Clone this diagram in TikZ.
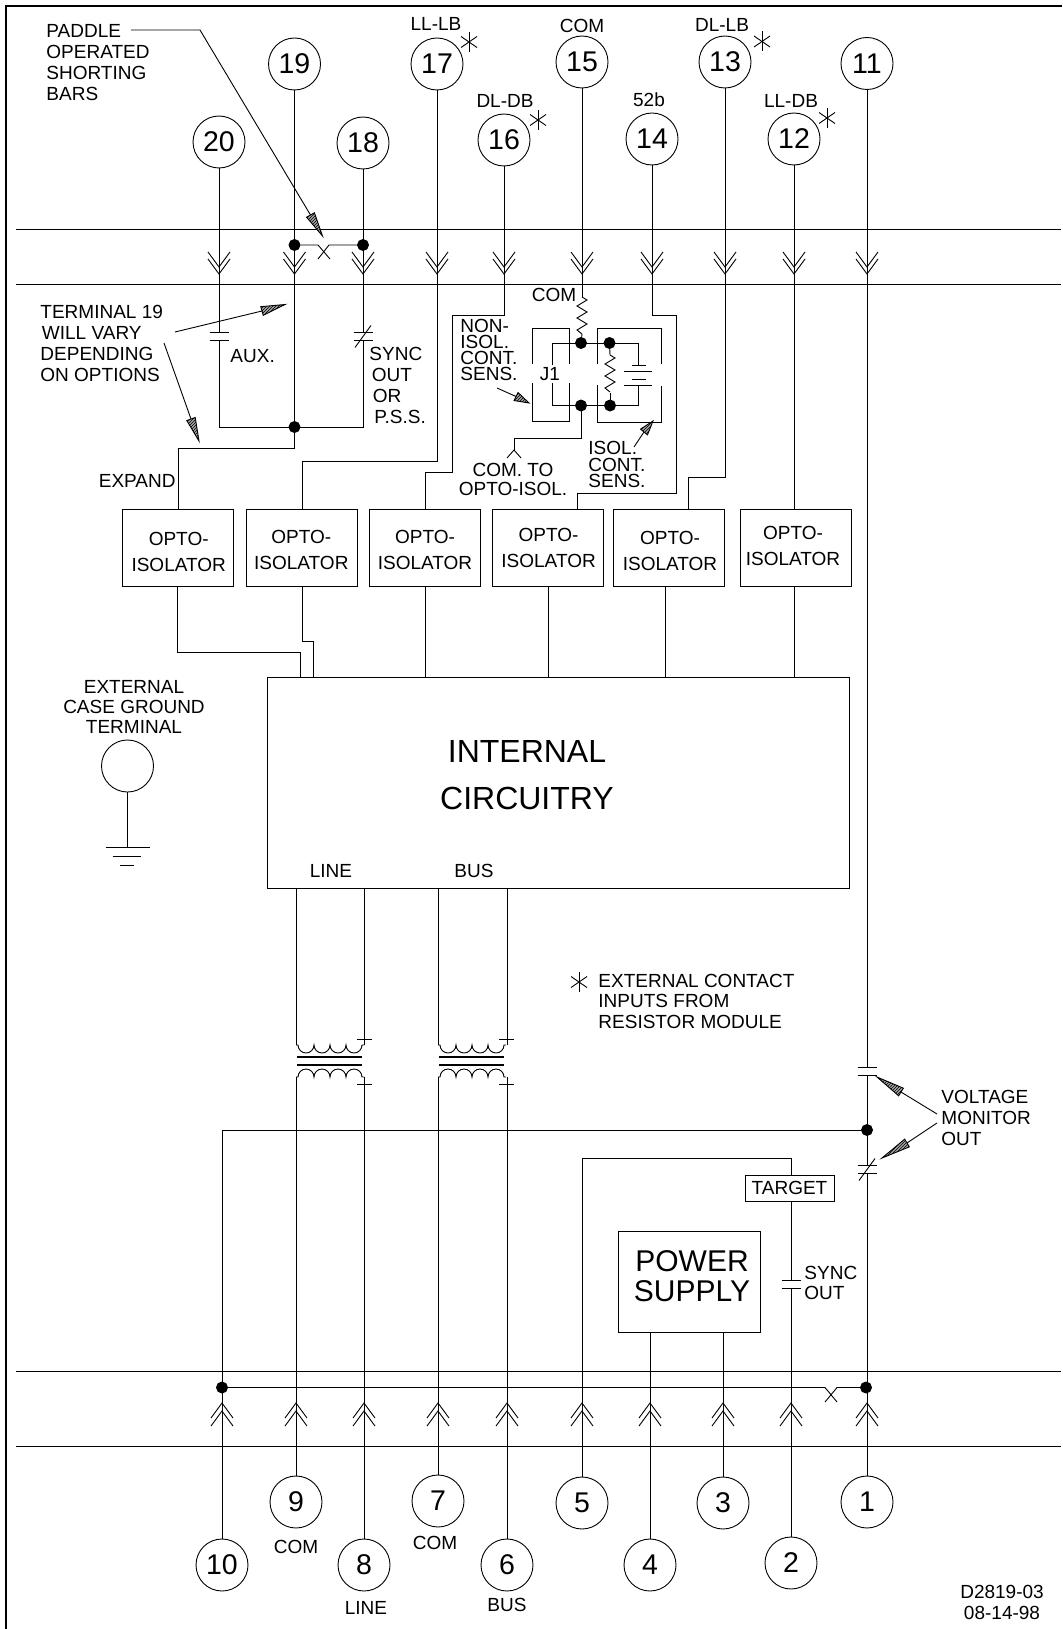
\documentclass[tikz,border=0pt]{standalone}
\usepackage{fontspec}
\setmainfont{Liberation Sans}
\usetikzlibrary{calc,patterns,positioning}
\tikzset{%
	terminal/.style = {draw, circle, minimum size=52pt, inner sep=0pt, fill=white, font=\fontsize{28.5}{30}\selectfont}, % Numbered stud
	optobox/.style  = {draw, rectangle, minimum width=111pt, minimum height=77pt, inner sep=0pt},
	dot/.style      = {draw, circle, fill=black, minimum size=11pt, inner sep=0pt},
	waypoint/.style = {coordinate},
	txt/.style      = {inner sep=0pt, font=\fontsize{19}{21}\selectfont},
	txtl/.style     = {txt, anchor=west, align=left},
	txtc/.style     = {txt, align=center},
	optotxt/.style  = {txtc, font=\fontsize{19}{26}\selectfont},
	chevdown/.pic   = {\draw (-11,-15) -- (0,0) -- (11,-15); \draw (-11,-8) -- (0,7) -- (11,-8);},
	chevup/.pic     = {\draw (-11,15) -- (0,0) -- (11,15); \draw (-11,23) -- (0,8) -- (11,23);},
	capgap/.pic     = {\fill[white] (-9.5,-4) rectangle (9.5,4); \draw (-9.5,-4) -- (9.5,-4); \draw (-9.5,4) -- (9.5,4);},
	capslash/.pic   = {\fill[white] (-9.5,-4) rectangle (9.5,4); \draw (-9.5,-4) -- (9.5,-4); \draw (-9.5,4) -- (9.5,4); \draw (-8,11) -- (8,-11);},
	extstar/.pic    = {\draw (0,-10) -- (0,10); \draw (-8,-5.5) -- (8,5.5); \draw (-8,5.5) -- (8,-5.5);},
	zigzag/.pic     = {\draw (0,0) -- (5,3) -- (-5,9) -- (5,15) -- (-5,21) -- (5,27) -- (-5,33) -- (0,37);},
	transformer/.pic = {%
		\draw (0,0) -- (2,0) arc[start angle=180,end angle=360,radius=8pt] arc[start angle=180,end angle=360,radius=8pt] arc[start angle=180,end angle=360,radius=8pt] arc[start angle=180,end angle=360,radius=8pt] -- (68,0);
		\draw (0,32) -- (2,32) arc[start angle=180,end angle=0,radius=8pt] arc[start angle=180,end angle=0,radius=8pt] arc[start angle=180,end angle=0,radius=8pt] arc[start angle=180,end angle=0,radius=8pt] -- (68,32);
		\draw[line width=1.2pt] (1,12) -- (66,12);
		\draw[line width=1.2pt] (1,20) -- (66,20);
		\draw (61,-6) -- (76,-6);
		\draw (61,39) -- (76,39);
	},
}
\newcommand{\hatchtip}[2]{%
	\fill[gray!70] ($(#1)!4.5pt!90:(#2)$) -- (#2) -- ($(#1)!4.5pt!-90:(#2)$) -- cycle;
	\draw[pattern=north east lines] ($(#1)!4.5pt!90:(#2)$) -- (#2) -- ($(#1)!4.5pt!-90:(#2)$) -- cycle;}

\begin{document}
\begin{tikzpicture}[x=1pt,y=-1pt,line width=0.9pt]
	\useasboundingbox (0,0) rectangle (1062,1629);
	\draw[line width=2.2pt] (6,1629) -- (6,6) -- (1062,6);

	\coordinate (barTL) at (16,229);
	\coordinate (barTR) at (1061,229);
	\coordinate (barUL) at (16,284);
	\coordinate (barUR) at (1061,284);
	\coordinate (barVL) at (16,1371);
	\coordinate (barVR) at (1061,1371);
	\coordinate (barWL) at (16,1446);
	\coordinate (barWR) at (1061,1446);
	\draw (barTL) -- (barTR);
	\draw (barUL) -- (barUR);
	\draw (barVL) -- (barVR);
	\draw (barWL) -- (barWR);

	\node[terminal] (t20) at (219,142) {20};
	\node[terminal] (t19) at (294.5,64) {19};
	\node[terminal] (t18) at (363,143) {18};
	\node[terminal] (t17) at (437,64) {17};
	\node[terminal] (t16) at (504,140) {16};
	\node[terminal] (t15) at (582,62) {15};
	\node[terminal] (t14) at (652,139) {14};
	\node[terminal] (t13) at (725,62) {13};
	\node[terminal] (t12) at (794,139) {12};
	\node[terminal] (t11) at (867,63.5) {11};
	\node[terminal] (t10) at (222,1565) {10};
	\node[terminal] (t9) at (296,1502) {9};
	\node[terminal] (t8) at (364,1565) {8};
	\node[terminal] (t7) at (438,1501) {7};
	\node[terminal] (t6) at (507,1565) {6};
	\node[terminal] (t5) at (582,1503) {5};
	\node[terminal] (t4) at (650,1565) {4};
	\node[terminal] (t3) at (723,1503) {3};
	\node[terminal] (t2) at (791,1563) {2};
	\node[terminal] (t1) at (867,1502) {1};
	\node[terminal] (tgnd) at (127.5,766) {};

	\node[optobox] (opto1) at (177.5,547.5) {};
	\node[optobox,right of=opto1,node distance=124.5pt] (opto2) {};
	\node[optobox,right of=opto2,node distance=123pt] (opto3) {};
	\node[optobox,right of=opto3,node distance=123pt] (opto4) {};
	\node[optobox,right of=opto4,node distance=120.5pt] (opto5) {};
	\node[optobox,right of=opto5,node distance=127.5pt] (opto6) {};
	\node[optotxt] (lblOpto1) at (178.7,551.5) {OPTO-\\ISOLATOR};
	\node[optotxt] (lblOpto2) at (301.3,549.5) {OPTO-\\ISOLATOR};
	\node[optotxt] (lblOpto3) at (425,549.5) {OPTO-\\ISOLATOR};
	\node[optotxt] (lblOpto4) at (548.6,547.5) {OPTO-\\ISOLATOR};
	\node[optotxt] (lblOpto5) at (670,550.5) {OPTO-\\ISOLATOR};
	\node[optotxt] (lblOpto6) at (793,545.5) {OPTO-\\ISOLATOR};
	\node[draw,minimum width=582pt,minimum height=211pt,inner sep=0pt] (block) at (558.5,782.5) {};
	\node[draw,minimum width=142pt,minimum height=101pt,inner sep=0pt] (power) at (689,1281.5) {};
	\node[txtc,font=\fontsize{30}{30}\selectfont] (lblPower) at (692,1276.5) {POWER\\SUPPLY};
	\node[draw,minimum width=89pt,minimum height=26pt,inner sep=0pt,txt] (target) at (789.5,1188) {TARGET};

	\node[dot] (d19a) at (294.5,245) {};
	\node[dot] (d18a) at (363,245) {};
	\node[dot] (d19b) at (294.5,427) {};
	\node[dot] (dJa) at (581,343) {};
	\node[dot] (dJb) at (609.5,343) {};
	\node[dot] (dJc) at (581,405.5) {};
	\node[dot] (dJd) at (610,405.5) {};
	\node[dot] (d11) at (867,1130) {};
	\node[dot] (d10) at (222,1387.5) {};
	\node[dot] (d1) at (866,1387.5) {};

	\node[waypoint] (wpX1) at (318,245) {};
	\node[waypoint] (wpX2) at (330,259) {};
	\node[waypoint] (wpX3) at (329,245) {};
	\node[waypoint] (wpX4) at (318,259) {};
	\node[waypoint] (wpE) at (178,448) {};
	\node[waypoint] (wp17) at (302,461) {};
	\node[waypoint] (wp16a) at (452,315) {};
	\node[waypoint] (wp16b) at (425,472) {};
	\node[waypoint] (wp14a) at (676,315) {};
	\node[waypoint] (wp14b) at (577,493) {};
	\node[waypoint] (wp13) at (688,477) {};
	\node[waypoint] (wpO1) at (300,652) {};
	\node[waypoint] (wpO2) at (313,641.7) {};
	\node[waypoint] (wpO5) at (665,586) {};
	\node[waypoint] (wpCom) at (514,438) {};
	\node[waypoint] (wpComb) at (514,450) {};
	\node[waypoint] (wp5) at (791,1158) {};
	\node[waypoint] (wpgnd) at (127.5,847) {};
	\node[waypoint] (r15a) at (582,297) {};
	\node[waypoint] (r15b) at (582,334) {};
	\node[waypoint] (r2a) at (610,355) {};
	\node[waypoint] (r2b) at (610,393) {};
	\node[waypoint] (tr1a) at (296,1045) {};
	\node[waypoint] (tr1b) at (364,1045) {};
	\node[waypoint] (tr1c) at (296,1077) {};
	\node[waypoint] (tr1d) at (364,1077) {};
	\node[waypoint] (tr2a) at (438,1045) {};
	\node[waypoint] (tr2b) at (507,1045) {};
	\node[waypoint] (tr2c) at (438,1077) {};
	\node[waypoint] (tr2d) at (507,1077) {};

	\draw (t20) |- (d19b);
	\draw (t18) |- (d19b);
	\draw (t19) -- (d19a);
	\draw (d19a) -- (d19b);
	\draw (d18a) -- (t18);
	\draw (d19a) -- (wpX1) -- (wpX2);
	\draw (d18a) -- (wpX3) -- (wpX4);
	\draw (d19b) |- (wpE) -- (wpE |- opto1.north);
	\draw (t17) |- (wp17) -- (wp17 |- opto2.north);
	\draw (t16) |- (wp16a) |- (wp16b) -- (wp16b |- opto3.north);
	\draw (t15) -- (r15a);
	\draw (r15b) -- (dJa);
	\draw (t14) |- (wp14a) |- (wp14b) -- (wp14b |- opto4.north);
	\draw (t13) |- (wp13) -- (wp13 |- opto5.north);
	\draw (t12) -- (t12 |- opto6.north);
	\draw (dJb) -- (r2a);
	\draw (r2b) -- (dJd);
	\draw (dJc) |- (wpCom) -- (wpComb);

	\draw (opto1.south) |- (wpO1) -- (wpO1 |- block.north);
	\draw (opto2.south) |- (wpO2) -- (wpO2 |- block.north);
	\draw (opto3.south) -- (opto3.south |- block.north);
	\draw (opto4.south) -- (opto4.south |- block.north);
	\draw (wpO5) -- (wpO5 |- block.north);
	\draw (t12 |- opto6.south) -- (t12 |- block.north);

	\draw (tr1a |- block.south) -- (tr1a);
	\draw (tr1b |- block.south) -- (tr1b);
	\draw (tr2a |- block.south) -- (tr2a);
	\draw (tr2b |- block.south) -- (tr2b);
	\draw (t9) -- (tr1c);
	\draw (t8) -- (tr1d);
	\draw (t7) -- (tr2c);
	\draw (t6) -- (tr2d);

	\draw (t11) -- (d11);
	\draw (d11) -- (t1);
	\draw (t10) |- (d11);
	\draw (t5) |- (wp5) -- (wp5 |- target.north);
	\draw (t2) -- (t2 |- target.south);
	\draw (t4) -- (t4 |- power.south);
	\draw (t3) -- (t3 |- power.south);
	\node[waypoint] (wpY1) at (825,1387.5) {};
	\node[waypoint] (wpY2) at (837,1402) {};
	\node[waypoint] (wpY3) at (837,1387.5) {};
	\node[waypoint] (wpY4) at (825,1402) {};
	\draw (d10) -- (wpY1) -- (wpY2);
	\draw (d1) -- (wpY3) -- (wpY4);

	\draw (tgnd) -- (wpgnd);
	\draw ($(wpgnd)+(-22,0)$) -- ($(wpgnd)+(22,0)$);
	\draw ($(wpgnd)+(-15,9)$) -- ($(wpgnd)+(13,9)$);
	\draw ($(wpgnd)+(-8,18)$) -- ($(wpgnd)+(6,18)$);

	% J1 jumper brackets
	\draw (532,364) -- (532,328) -- (569,328) -- (569,364);
	\draw (532,383) -- (532,421) -- (569,421) -- (569,383);
	\draw (597,364) -- (597,328) -- (661,328) -- (661,364);
	\draw (597,385) -- (597,422) -- (661,422) -- (661,386);
	\draw (552,365) -- (552,343) -- (638,343) -- (638,365);
	\draw (552,383) -- (552,405.5) -- (638,405.5) -- (638,385);
	\draw (632,365) -- (646,365);
	\draw (624,371.5) -- (652,371.5);
	\draw (632,379) -- (646,379);
	\draw (624,385) -- (652,385);
	\draw (507,458) -- (wpComb) -- (521,458);
	\pic at (r15a) {zigzag};
	\pic at (r2a) {zigzag};

	\pic at (219,336) {capgap};
	\pic at (363,336.5) {capslash};
	\pic at (867,1071) {capgap};
	\pic at (867,1169.5) {capslash};
	\pic at (791,1284) {capgap};
	\pic at (tr1a) {transformer};
	\pic at (tr2a) {transformer};

	\pic at (219,267) {chevdown};
	\pic at (294.5,267) {chevdown};
	\pic at (363,267) {chevdown};
	\pic at (437,267) {chevdown};
	\pic at (504,267) {chevdown};
	\pic at (582,267) {chevdown};
	\pic at (652,267) {chevdown};
	\pic at (725,267) {chevdown};
	\pic at (794,267) {chevdown};
	\pic at (867,267) {chevdown};
	\pic at (222,1403) {chevup};
	\pic at (296,1403) {chevup};
	\pic at (364,1403) {chevup};
	\pic at (438,1403) {chevup};
	\pic at (507,1403) {chevup};
	\pic at (582,1403) {chevup};
	\pic at (650,1403) {chevup};
	\pic at (723,1403) {chevup};
	\pic at (791,1403) {chevup};
	\pic at (867,1403) {chevup};

	\pic at (469,42) {extstar};
	\pic at (538,120) {extstar};
	\pic at (762,41.5) {extstar};
	\pic at (827,118) {extstar};
	\pic at (579,982) {extstar};

	% leaders with hatched heads
	\coordinate (lpA) at (131,30);
	\coordinate (lpB) at (200,30);
	\coordinate (lpC) at (310.5,215);
	\coordinate (lpD) at (322.5,236);
	\draw (lpA) -- (lpB) -- (lpC);
	\hatchtip{lpC}{lpD}
	\coordinate (laA) at (175,332);
	\coordinate (laB) at (262,311);
	\coordinate (laC) at (285,304.5);
	\draw (laA) -- (laB);
	\hatchtip{laB}{laC}
	\coordinate (lbA) at (164,343);
	\coordinate (lbB) at (191,419);
	\coordinate (lbC) at (199,441);
	\draw (lbA) -- (lbB);
	\hatchtip{lbB}{lbC}
	\coordinate (lcA) at (497,388);
	\coordinate (lcB) at (516,396.5);
	\coordinate (lcC) at (529,403);
	\draw (lcA) -- (lcB);
	\hatchtip{lcB}{lcC}
	\coordinate (ldA) at (634,447);
	\coordinate (ldB) at (644,432);
	\coordinate (ldC) at (653,421);
	\draw (ldA) -- (ldB);
	\hatchtip{ldB}{ldC}
	\coordinate (leA) at (937,1114);
	\coordinate (leB) at (901,1092);
	\coordinate (leC) at (877,1077);
	\draw (leA) -- (leB);
	\hatchtip{leB}{leC}
	\coordinate (lfA) at (937,1123);
	\coordinate (lfB) at (907,1143);
	\coordinate (lfC) at (882,1158);
	\draw (lfA) -- (lfB);
	\hatchtip{lfB}{lfC}

	\node[txtl] (lblPaddle) at (46,62.5) {PADDLE\\OPERATED\\SHORTING\\BARS};
	\node[txtl] (lblTerm) at (40,343) {TERMINAL 19\\\hspace*{1.5pt}WILL VARY\\DEPENDING\\ON OPTIONS};
	\node[txtl] (lblAux) at (230,356) {AUX.};
	\node[txtl] (lblSync) at (369,385.5) {SYNC\\\hspace*{2.5pt}OUT\\\hspace*{3.5pt}OR\\\hspace*{5pt}P.S.S.};
	\node[txt,anchor=east] (lblExpand) at (176,481) {EXPAND};
	\node[txtc] (lblLLLB) at (436,24) {LL-LB};
	\node[txtc] (lblDLDB) at (505,101) {DL-DB};
	\node[txtc] (lblCom15) at (582,26) {COM};
	\node[txtc] (lbl52b) at (649,100) {52b};
	\node[txtc] (lblDLLB) at (722,25) {DL-LB};
	\node[txtc] (lblLLDB) at (791,101) {LL-DB};
	\node[txtc] (lblComJ) at (554,295) {COM};
	\node[txtl,font=\fontsize{19}{16}\selectfont] (lblNon) at (460,350) {NON-\\ISOL.\\CONT.\\SENS.};
	\node[txtc] (lblJ1) at (550,374) {J1};
	\node[txtc,font=\fontsize{19}{19}\selectfont] (lblOpto) at (513,479.5) {COM. TO\\OPTO-ISOL.};
	\node[txtl,font=\fontsize{19}{16.5}\selectfont] (lblIsol) at (588,464.5) {ISOL.\\CONT.\\SENS.};
	\node[txtc,font=\fontsize{19}{20}\selectfont] (lblGnd) at (134,707) {EXTERNAL\\CASE GROUND\\TERMINAL};
	\node[txtc,font=\fontsize{32}{47}\selectfont] (lblBlock) at (527,775.5) {INTERNAL\\CIRCUITRY};
	\node[txtc] (lblLine) at (331,871) {LINE};
	\node[txtc] (lblBus) at (474,871) {BUS};
	\node[txtl,font=\fontsize{19}{20.5}\selectfont] (lblLegend) at (598,1001) {EXTERNAL CONTACT\\INPUTS FROM\\RESISTOR MODULE};
	\node[txtl] (lblVolt) at (941,1118) {VOLTAGE\\MONITOR\\OUT};
	\node[txtl,font=\fontsize{19}{20}\selectfont] (lblSyncOut) at (804,1283) {SYNC\\OUT};
	\node[txtc] (lblCom9) at (296,1547) {COM};
	\node[txtc] (lblCom7) at (435,1543) {COM};
	\node[txtc] (lblLine8) at (366,1608) {LINE};
	\node[txtc] (lblBus6) at (507,1605) {BUS};
	\node[txtc] (lblDwg) at (1002,1602.5) {D2819-03\\08-14-98};
\end{tikzpicture}
\end{document}
